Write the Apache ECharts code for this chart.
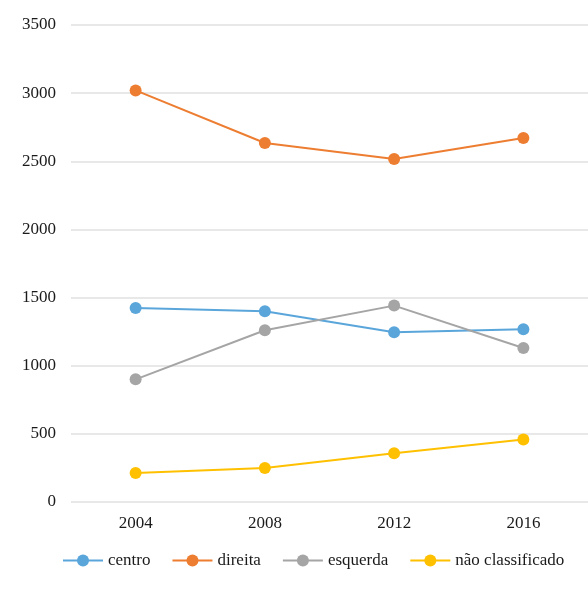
<!DOCTYPE html>
<html lang="pt">
  <head>
    <meta charset="UTF-8" />
    <title>Linhas por ano</title>
    <script src="https://cdn.jsdelivr.net/npm/echarts@6/dist/echarts.min.js"></script>
    <style>
      body {
        margin: 0;
        background-color: #ffffff;
      }
      #main {
        width: 588px;
        height: 593px;
      }
    </style>
  </head>
  <body>
    <div id="main"></div>
    <script>
      // dados
      const anos = ["2004", "2008", "2012", "2016"];
      const centro = [1424, 1400, 1245, 1268];
      const direita = [3020, 2634, 2517, 2671];
      const esquerda = [900, 1260, 1441, 1130];
      const naoClassificado = [213, 250, 358, 459];

      const cores = ["#5AA6DB", "#ED7D31", "#A5A5A5", "#FFC000"];
      const fonte = "Liberation Serif";

      function serie(nome, dados) {
        return {
          name: nome,
          type: "line",
          data: dados,
          symbol: "circle",
          symbolSize: 12,
          lineStyle: { width: 2 },
          emphasis: { disabled: true },
        };
      }

      const myChart = echarts.init(document.getElementById("main"));

      myChart.setOption({
        animation: false,
        color: cores,
        textStyle: { fontFamily: fonte },
        grid: {
          left: 71,
          right: 0,
          top: 25,
          bottom: 91,
        },
        xAxis: {
          type: "category",
          data: anos,
          boundaryGap: true,
          axisLine: { show: false },
          axisTick: { show: false },
          axisLabel: {
            color: "#1a1a1a",
            fontSize: 17,
            fontFamily: fonte,
            margin: 13,
          },
        },
        yAxis: {
          type: "value",
          min: 0,
          max: 3500,
          interval: 500,
          axisLine: { show: false },
          axisTick: { show: false },
          splitLine: { lineStyle: { color: "#E0E0E0", width: 1.5 } },
          axisLabel: {
            color: "#1a1a1a",
            fontSize: 17,
            fontFamily: fonte,
            margin: 15,
            formatter: (v) => String(v),
          },
        },
        legend: {
          bottom: 19,
          left: 57,
          itemWidth: 40,
          itemHeight: 15,
          itemGap: 21,
          textStyle: { color: "#1a1a1a", fontSize: 17, fontFamily: fonte },
          data: ["centro", "direita", "esquerda", "não classificado"],
        },
        series: [
          serie("centro", centro),
          serie("direita", direita),
          serie("esquerda", esquerda),
          serie("não classificado", naoClassificado),
        ],
      });
    </script>
  </body>
</html>
